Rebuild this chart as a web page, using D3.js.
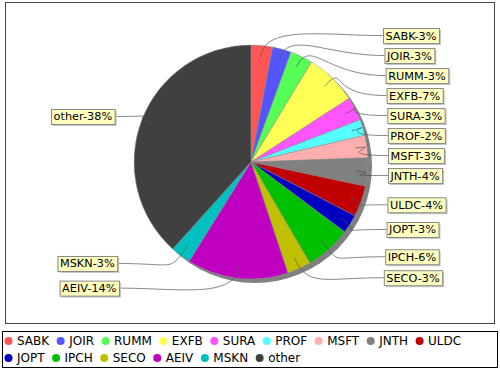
<!DOCTYPE html>
<html>
<head>
<meta charset="utf-8">
<script src="https://cdn.jsdelivr.net/npm/d3@7"></script>
<style>
body { margin: 0; background: #fff; }
text { font-family: "DejaVu Sans", sans-serif; }
</style>
</head>
<body>
<script>
var width = 500;
var height = 370;

var names = ["SABK", "JOIR", "RUMM", "EXFB", "SURA", "PROF", "MSFT", "JNTH",
    "ULDC", "JOPT", "IPCH", "SECO", "AEIV", "MSKN", "other"];
var values = [2.97, 2.6, 3.1, 7.2, 3.3, 2.2, 3.1, 3.9, 4.3, 2.6, 6.4, 3.3, 14.0, 2.8, 38.4];
var colors = ["#ff5555", "#5555ff", "#55ff55", "#ffff55", "#ff55ff", "#55ffff",
    "#ffafaf", "#808080", "#c00000", "#0000c0", "#00c000", "#c0c000",
    "#c000c0", "#00c0c0", "#404040"];

var cx = 251, cy = 162, r = 117;
var fmt = d3.format(".0f");

var svg = d3.select("body").append("svg")
    .attr("width", width)
    .attr("height", height)
;

// plot frame
svg.append("rect")
    .attr("x", 5.5).attr("y", 2.5)
    .attr("width", 489).attr("height", 321)
    .attr("fill", "#fff")
    .attr("stroke", "#444")
;

var total = d3.sum(values);
var pie = d3.pie().sort(null).value(d => d.value);
var slices = pie(names.map((n, i) => ({name: n, value: values[i], color: colors[i]})));
var arc = d3.arc().innerRadius(0).outerRadius(r);

var g = svg.append("g").attr("transform", `translate(${cx},${cy})`);

// shadow
g.append("circle")
    .attr("cx", 4).attr("cy", 4).attr("r", r)
    .attr("fill", "#808080")
;

g.selectAll("path.slice").data(slices).enter().append("path")
    .attr("class", "slice")
    .attr("d", arc)
    .attr("fill", d => d.data.color)
    .attr("stroke", "#909090")
    .attr("stroke-width", 0.5)
;

// label layout
var labelR = r + 10;
var labels = slices.map(function(d) {
    var mid = (d.startAngle + d.endAngle) / 2;
    return {
        d: d,
        mid: mid,
        right: Math.sin(mid) >= 0,
        y: -labelR * Math.cos(mid),
        text: d.data.name + "-" + fmt(d.data.value / total * 100) + "%",
    };
});

function spread(list) {
    list.sort((a, b) => a.y - b.y);
    for (var i = 1; i < list.length; i++) {
        if (list[i].y < list[i - 1].y + 20) list[i].y = list[i - 1].y + 20;
    }
}
spread(labels.filter(l => l.right));
spread(labels.filter(l => !l.right));

labels.forEach(function(l) {
    var k = Math.sqrt(1 - Math.pow(l.y / 470, 2));
    l.x = (l.right ? 1 : -1) * 137 * k;
});

var links = g.append("g");
var boxes = g.append("g");

labels.forEach(function(l) {
    var bg = boxes.append("g");
    var t = bg.append("text")
        .attr("font-size", 11.3)
        .attr("dy", "0.35em")
        .text(l.text);
    var w = t.node().getComputedTextLength() + 5;
    var bx = l.right ? l.x : l.x - w;
    t.attr("x", bx + 2.5).attr("y", l.y);
    bg.insert("rect", "text")
        .attr("x", bx + 2).attr("y", l.y - 7.5 + 2)
        .attr("width", w).attr("height", 15)
        .attr("fill", "#c8c8c8");
    bg.insert("rect", "text")
        .attr("x", bx + 0.5).attr("y", l.y - 7.5 + 0.5)
        .attr("width", w).attr("height", 15)
        .attr("fill", "#ffffc0")
        .attr("stroke", "#888");

    // curved link from inside the slice out to the label box
    var sx = Math.sin(l.mid), sy = -Math.cos(l.mid);
    var p0 = [sx * r * 0.9, sy * r * 0.9];
    var p1 = [sx * r * 1.18, sy * r * 1.18];
    var p3 = [l.x, l.y];
    var p2 = [l.x * 0.55, l.y];
    var p = d3.path();
    p.moveTo(p0[0], p0[1]);
    p.bezierCurveTo(p1[0], p1[1], p2[0], p2[1], p3[0], p3[1]);
    links.append("path")
        .attr("d", p.toString())
        .attr("fill", "none")
        .attr("stroke", "#555")
        .attr("stroke-width", 0.7);
});

// legend
var legend = svg.append("g");
legend.append("rect")
    .attr("x", 2.5).attr("y", 331.5)
    .attr("width", 495).attr("height", 36)
    .attr("fill", "#fff")
    .attr("stroke", "#000")
;

var lx = 4, ly = 341;
names.forEach(function(n, i) {
    var item = legend.append("g");
    var t = item.append("text")
        .attr("font-size", 12)
        .attr("dy", "0.35em")
        .text(n);
    var w = t.node().getComputedTextLength() + 13;
    if (lx + w > 492) { lx = 4; ly += 17; }
    item.append("circle")
        .attr("cx", lx + 4.5).attr("cy", ly)
        .attr("r", 4)
        .attr("fill", colors[i]);
    t.attr("x", lx + 13).attr("y", ly);
    lx += w + 7;
});
</script>
</body>
</html>
